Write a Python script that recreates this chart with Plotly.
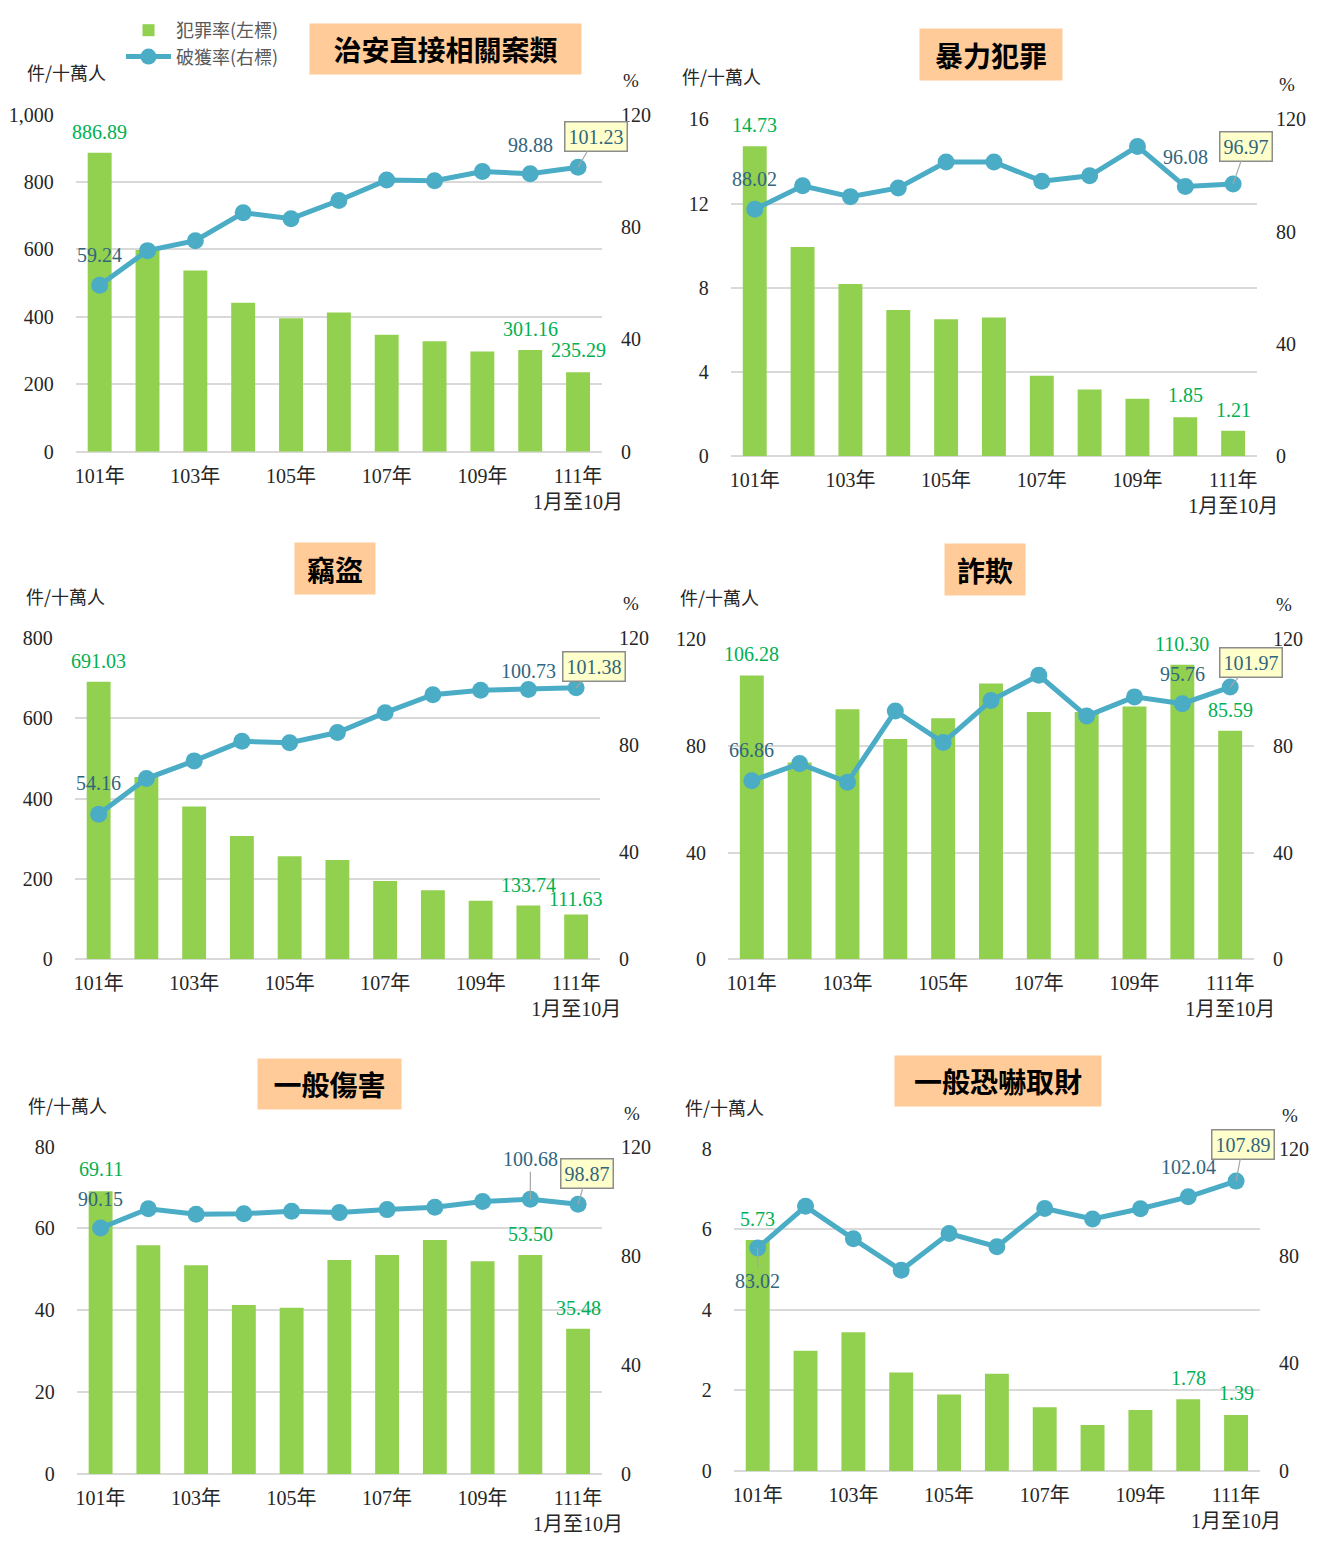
import plotly.graph_objects as go

W, H = 1341, 1547

# ---------------- data ----------------
years = ['101年', '102年', '103年', '104年', '105年', '106年', '107年', '108年', '109年', '110年', '111年']
x_tick_text = ['101年', '', '103年', '', '105年', '', '107年', '', '109年', '', '111年<br>1月至10月']

titles = ['治安直接相關案類', '暴力犯罪', '竊盜', '詐欺', '一般傷害', '一般恐嚇取財']

rate_public = [886.89, 598.0, 537.6, 441.8, 395.9, 412.5, 347.0, 327.5, 297.2, 301.16, 235.29]
clear_public = [59.24, 71.55, 75.07, 85.04, 82.93, 89.38, 96.66, 96.42, 99.70, 98.88, 101.23]

rate_violent = [14.73, 9.94, 8.18, 6.95, 6.51, 6.59, 3.82, 3.17, 2.73, 1.85, 1.21]
clear_violent = [88.02, 96.35, 92.5, 95.6, 104.8, 104.8, 98.0, 99.9, 110.4, 96.08, 96.97]

rate_theft = [691.03, 453.9, 380.4, 306.9, 256.3, 247.3, 195.1, 172.2, 146.1, 133.74, 111.63]
clear_theft = [54.16, 67.5, 74.1, 81.4, 80.9, 84.7, 92.1, 98.8, 100.5, 100.73, 101.38]

rate_fraud = [106.28, 73.7, 93.7, 82.5, 90.3, 103.3, 92.6, 92.6, 94.7, 110.30, 85.59]
clear_fraud = [66.86, 73.3, 66.3, 93.0, 81.2, 96.9, 106.4, 91.1, 98.3, 95.76, 101.97]

rate_injury = [69.11, 55.9, 51.0, 41.3, 40.6, 52.3, 53.5, 57.2, 52.0, 53.50, 35.48]
clear_injury = [90.15, 97.2, 95.2, 95.4, 96.3, 95.8, 96.9, 97.8, 99.9, 100.68, 98.87]

rate_extort = [5.73, 2.98, 3.44, 2.44, 1.90, 2.41, 1.58, 1.14, 1.51, 1.78, 1.39]
clear_extort = [83.02, 98.5, 86.4, 74.7, 88.4, 83.5, 97.7, 93.8, 97.6, 102.04, 107.89]

left_max = [1000, 16, 800, 120, 80, 8]
left_dtick = [200, 4, 200, 40, 20, 2]
right_max = 120
right_dtick = 40

crime_rates = [rate_public, rate_violent, rate_theft, rate_fraud, rate_injury, rate_extort]
clear_rates = [clear_public, clear_violent, clear_theft, clear_fraud, clear_injury, clear_extort]

# ---------------- styling / layout ----------------
GREEN = '#92D050'
BLUE = '#4BACC6'
LBL_GREEN = '#00B050'
LBL_BLUE = '#31667E'
GRID = '#D9D9D9'
FONT = 'Liberation Serif, Noto Sans CJK TC, serif'
CJK = 'Noto Sans CJK TC, Liberation Serif, serif'
TICK_SIZE = 20

# plot boxes in pixels: (x0, x1, ytop, ybottom)
boxes = [
    (76, 611, 105, 447),
    (742, 1277, 110, 451.7),
    (75, 609, 636, 962),
    (739, 1274, 637, 962),
    (77, 611, 1152, 1484),
    (745, 1280, 1154, 1481),
]
title_boxes = [  # center x, center y, w, h
    (452, 39, 269, 48),
    (1007, 44, 140, 49),
    (340, 566, 78, 49),
    (1000, 567, 78, 49),
    (334, 1088, 141, 48),
    (1014, 1085, 204, 48),
]
unit_pos = [(67, 62), (733, 66), (66, 593), (730, 594), (68, 1110), (736, 1112)]
pct_pos = [(641, 70), (1307, 75), (640, 601), (1304, 602), (642, 1118), (1310, 1120)]

# label specs: (series, index, dx, dy, style)  style: None / 'box' / 'lead'
label_specs = [
    [('bar', 0, 0, -21, None), ('line', 0, 0, -30, None), ('line', 9, 0, -29, None),
     ('line', 10, 18, -31, 'box'), ('bar', 9, 0, -21, None), ('bar', 10, 0, -22, None)],
    [('bar', 0, 0, -21, None), ('line', 0, 0, -30, None), ('line', 9, 0, -30, None),
     ('line', 10, 13, -38, 'box'), ('bar', 9, 0, -22, None), ('bar', 10, 0, -21, None)],
    [('bar', 0, 0, -21, None), ('line', 0, 0, -31, None), ('line', 9, 0, -19, None),
     ('line', 10, 18, -21, 'box'), ('bar', 9, 0, -21, None), ('bar', 10, 0, -15, None)],
    [('bar', 0, 0, -22, None), ('line', 0, 0, -31, None), ('line', 9, 0, -30, None),
     ('line', 10, 21, -25, 'box'), ('bar', 9, 0, -21, None), ('bar', 10, 0, -21, None)],
    [('bar', 0, 0, -22, None), ('line', 0, 0, -29, None), ('line', 9, 0, -40, 'lead'),
     ('line', 10, 9, -31, 'box'), ('bar', 9, 0, -21, None), ('bar', 10, 0, -21, None)],
    [('bar', 0, 0, -21, None), ('line', 0, 0, 33, 'lead'), ('line', 9, 0, -30, None),
     ('line', 10, 7, -37, 'box'), ('bar', 9, 0, -21, None), ('bar', 10, 0, -22, None)],
]


def px(x):
    return x / W


def py(y):
    return 1 - y / H


fig = go.Figure()
layout = dict(
    width=W, height=H, autosize=False,
    margin=dict(l=0, r=0, t=0, b=0),
    paper_bgcolor='white', plot_bgcolor='white',
    font=dict(family=FONT, size=18, color='#262626'),
    bargap=0.5,
    showlegend=True,
    legend=dict(x=px(122), y=py(1), xanchor='left', yanchor='top',
                font=dict(family=CJK, size=18, color='#595959'),
                bgcolor='rgba(0,0,0,0)', itemwidth=45, tracegroupgap=6,
                traceorder='normal'),
)
annotations = []

for i in range(6):
    xn = i + 1
    yl = 2 * i + 1
    yr = 2 * i + 2
    xkey = 'xaxis' if xn == 1 else f'xaxis{xn}'
    ylkey = 'yaxis' if yl == 1 else f'yaxis{yl}'
    yrkey = f'yaxis{yr}'
    xref = 'x' if xn == 1 else f'x{xn}'
    ylref = 'y' if yl == 1 else f'y{yl}'
    yrref = f'y{yr}'
    x0, x1, yt, yb = boxes[i]

    fig.add_trace(go.Bar(
        x=years, y=crime_rates[i], xaxis=xref, yaxis=ylref,
        marker=dict(color=GREEN, line=dict(width=0)),
        name='犯罪率(左標)', legendgroup='bar', showlegend=(i == 0),
    ))
    fig.add_trace(go.Scatter(
        x=years, y=clear_rates[i], xaxis=xref, yaxis=yrref,
        mode='lines+markers',
        line=dict(color=BLUE, width=5),
        marker=dict(color=BLUE, size=17),
        name='破獲率(右標)', legendgroup='line', showlegend=(i == 0),
    ))

    layout[xkey] = dict(
        domain=[px(x0), px(x1)], anchor=ylref,
        type='category', categoryorder='array', categoryarray=years,
        tickmode='array', tickvals=years, ticktext=x_tick_text,
        showgrid=False, showline=False, ticks='', zeroline=False,
        ticklabelstandoff=10,
        tickfont=dict(family=FONT, size=TICK_SIZE, color='#262626'),
        range=[-0.5, 10.5],
    )
    layout[ylkey] = dict(
        domain=[py(yb), py(yt)], anchor=xref,
        range=[0, left_max[i]], dtick=left_dtick[i], tick0=0,
        tickformat=',d',
        showgrid=True, gridcolor=GRID, gridwidth=1.5,
        zeroline=True, zerolinecolor=GRID, zerolinewidth=1.5,
        showline=False, ticks='', ticklabelstandoff=21,
        tickfont=dict(family=FONT, size=TICK_SIZE, color='#262626'),
    )
    layout[yrkey] = dict(
        domain=[py(yb), py(yt)], anchor=xref, overlaying=ylref, side='right',
        range=[0, right_max], dtick=right_dtick, tick0=0,
        showgrid=False, zeroline=False, showline=False, ticks='',
        ticklabelstandoff=18,
        tickfont=dict(family=FONT, size=TICK_SIZE, color='#262626'),
    )

    # title box
    cx, cy, bw, bh = title_boxes[i]
    annotations.append(dict(
        xref='paper', yref='paper', x=px(cx), y=py(cy), xanchor='center', yanchor='middle',
        text=f'<b>{titles[i]}</b>', showarrow=False, width=bw, height=bh,
        bgcolor='#FFCC99', font=dict(family=CJK, size=28, color='#000000'),
    ))
    ux, uy = unit_pos[i]
    annotations.append(dict(
        xref='paper', yref='paper', x=px(ux), y=py(uy), xanchor='center', yanchor='middle',
        text='件/十萬人', showarrow=False, font=dict(family=CJK, size=18, color='#262626'),
    ))
    qx, qy = pct_pos[i]
    annotations.append(dict(
        xref='paper', yref='paper', x=px(qx), y=py(qy), xanchor='center', yanchor='middle',
        text='%', showarrow=False, font=dict(family=FONT, size=19, color='#262626'),
    ))

    # data labels
    for series, idx, dx, dy, style in label_specs[i]:
        if series == 'bar':
            val = crime_rates[i][idx]
            yref_ = ylref
            color = LBL_GREEN
        else:
            val = clear_rates[i][idx]
            yref_ = yrref
            color = LBL_BLUE
        txt = f'{val:.2f}'
        ann = dict(xref=xref, yref=yref_, x=years[idx], y=val, text=txt,
                   font=dict(family=FONT, size=20, color=color))
        if style is None:
            ann.update(showarrow=False, xshift=dx, yshift=-dy,
                       xanchor='center', yanchor='middle')
        else:
            ann.update(showarrow=True, ax=dx, ay=dy, arrowhead=0, arrowwidth=1.2,
                       arrowcolor='#A6A6A6', standoff=0)
            if style == 'box':
                ann.update(bgcolor='#FFFFCC', bordercolor='#8C8C8C', borderwidth=1.5,
                           borderpad=3)
        annotations.append(ann)

layout['annotations'] = annotations
fig.update_layout(**layout)

page_fix = (
    "document.documentElement.style.margin='0';"
    "document.documentElement.style.overflow='hidden';"
    "document.body.style.margin='0';document.body.style.padding='0';"
    "document.body.style.overflow='hidden';"
    "var gd=document.getElementsByClassName('plotly-graph-div')[0];"
    "gd.style.position='fixed';gd.style.left='0px';gd.style.top='0px';"
)

fig.write_html(
    'out.html',
    config={'displayModeBar': False},
    post_script=page_fix,
)
